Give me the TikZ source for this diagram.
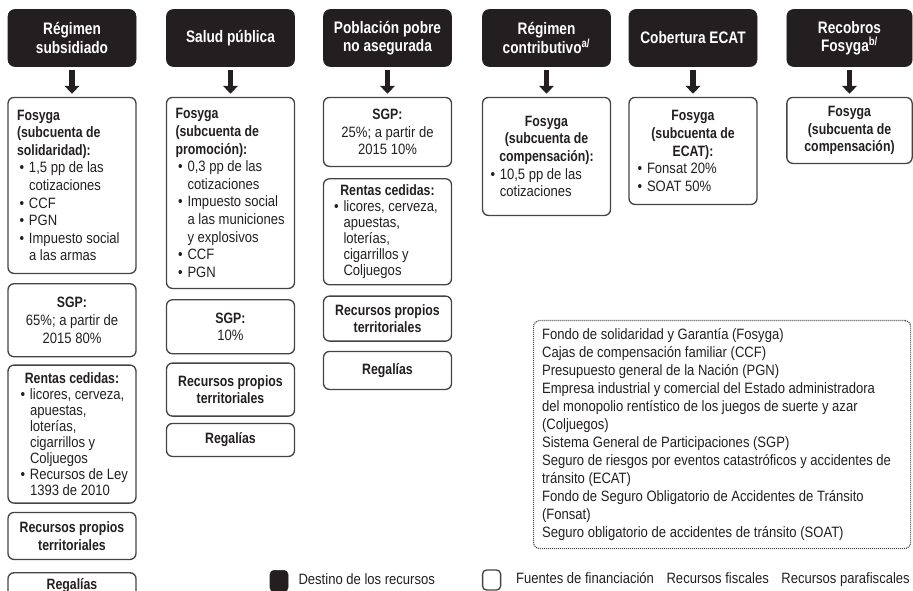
\documentclass[tikz,border=0pt]{standalone}
\usepackage{fontspec}
\setmainfont{Liberation Sans}[UprightFeatures={FakeStretch=0.87},BoldFeatures={FakeStretch=0.82}]
\usetikzlibrary{positioning,arrows.meta}
\definecolor{ink}{HTML}{231F20}
\definecolor{rim}{HTML}{444444}
% lines of a box: left line, bullet line, continued line
\newcommand\li[2][82.5pt]{\makebox[#1][l]{#2}}
\newcommand\bu[2][82.5pt]{\li[#1]{\hspace*{2pt}\makebox[7pt][l]{•}#2}}
\newcommand\bc[2][82.5pt]{\li[#1]{\hspace*{9pt}#2}}
\tikzset{%
  dest/.style={rectangle,rounded corners=5pt,fill=ink,draw=ink,text=white,
    minimum width=96pt,minimum height=42.75pt,align=center,
    font=\fontsize{12.5}{13.9}\selectfont\bfseries},
  fuente/.style={rectangle,rounded corners=4.5pt,draw=rim,line width=1pt,
    minimum width=96pt,align=center,text=ink,
    font=\fontsize{11.25}{13.2}\selectfont},
  tight/.style={font=\fontsize{11.25}{12}\selectfont},
  nota/.style={rectangle,rounded corners=4.5pt,draw=rim,line width=0.9pt,
    dash pattern=on 0.75pt off 0.75pt,align=left,text=ink,
    font=\fontsize{11.25}{13.5}\selectfont},
  lbl/.style={inner sep=0pt,text=ink,text height=8pt,text depth=2.5pt,
    font=\fontsize{11.25}{13.2}\selectfont},
  feed/.style={{Triangle[width=11pt,length=6pt]}-,line width=4pt,draw=ink,
    shorten <=2.25pt,shorten >=2.25pt}
}

\begin{document}
\begin{tikzpicture}[x=0.75pt,y=-0.75pt]
  \useasboundingbox (0,0) rectangle (913,591);
  % destino de los recursos
  \node [dest] (rs) at (72,38)    {Régimen\\subsidiado};
  \node [dest] (sp) at (230.5,38) {Salud pública};
  \node [dest] (pp) at (387.5,38) {Población pobre\\no asegurada};
  \node [dest] (rc) at (546.5,38) {Régimen\\contributivo\textsuperscript{a/}};
  \node [dest] (ec) at (693,38)   {Cobertura ECAT};
  \node [dest, minimum width=94pt] (rf) at (849.5,38) {Recobros\\Fosyga\textsuperscript{b/}};

  % regimen subsidiado
  \node [fuente, minimum height=132pt] (f1) [below=22.5pt of rs]
    {\li{\textbf{Fosyga}}\\ \li{\textbf{(subcuenta de}}\\ \li{\textbf{solidaridad):}}\\
     \bu{1,5 pp de las}\\ \bc{cotizaciones}\\ \bu{CCF}\\ \bu{PGN}\\
     \bu{Impuesto social}\\ \bc{a las armas}} edge [feed] (rs);
  \node [fuente, minimum height=54.75pt] (s1) [below=6.75pt of f1]
    {\textbf{SGP:}\\ 65\%; a partir de\\ 2015 80\%};
  \node [fuente, tight, minimum height=103.5pt] (r1) [below=5.25pt of s1]
    {\textbf{Rentas cedidas:}\\ \bu[81pt]{licores, cerveza,}\\ \bc[81pt]{apuestas,}\\
     \bc[81pt]{loterías,}\\ \bc[81pt]{cigarrillos y}\\ \bc[81pt]{Coljuegos}\\
     \bu[81pt]{Recursos de Ley}\\ \bc[81pt]{1393 de 2010}};
  \node [fuente, minimum height=35.25pt] (p1) [below=6pt of r1]
    {\textbf{Recursos propios}\\ \textbf{territoriales}};
  \node [fuente, minimum height=19.5pt] (g1) [below=9pt of p1] {\textbf{Regalías}};

  % salud publica
  \node [fuente, minimum height=143.25pt] (f2) [below=22.5pt of sp]
    {\li{\textbf{Fosyga}}\\ \li{\textbf{(subcuenta de}}\\ \li{\textbf{promoción):}}\\
     \bu{0,3 pp de las}\\ \bc{cotizaciones}\\ \bu{Impuesto social}\\
     \bc{a las municiones}\\ \bc{y explosivos}\\ \bu{CCF}\\ \bu{PGN}} edge [feed] (sp);
  \node [fuente, minimum height=40.5pt] (s2) [below=7.5pt of f2]
    {\textbf{SGP:}\\ 10\%};
  \node [fuente, minimum height=39.75pt] (p2) [below=6pt of s2]
    {\textbf{Recursos propios}\\ \textbf{territoriales}};
  \node [fuente, minimum height=24.75pt] (g2) [below=4.5pt of p2] {\textbf{Regalías}};

  % poblacion pobre no asegurada
  \node [fuente, minimum height=51.75pt] (s3) [below=22.5pt of pp]
    {\textbf{SGP:}\\ 25\%; a partir de\\ 2015 10\%} edge [feed] (pp);
  \node [fuente, tight, minimum height=79.5pt] (r3) [below=8.25pt of s3]
    {\textbf{Rentas cedidas:}\\ \bu[84pt]{licores, cerveza,}\\ \bc[84pt]{apuestas,}\\
     \bc[84pt]{loterías,}\\ \bc[84pt]{cigarrillos y}\\ \bc[84pt]{Coljuegos}};
  \node [fuente, minimum height=33.75pt] (p3) [below=7.5pt of r3]
    {\textbf{Recursos propios}\\ \textbf{territoriales}};
  \node [fuente, minimum height=28.5pt] (g3) [below=6.75pt of p3] {\textbf{Regalías}};

  % regimen contributivo, ECAT, recobros
  \node [fuente, minimum height=88.5pt] (f4) [below=22.5pt of rc]
    {\textbf{Fosyga}\\ \textbf{(subcuenta de}\\ \textbf{compensación):}\\
     \bu[88pt]{10,5 pp de las}\\ \bc[88pt]{cotizaciones}} edge [feed] (rc);
  \node [fuente, minimum height=80.25pt] (f5) [below=22.5pt of ec]
    {\textbf{Fosyga}\\ \textbf{(subcuenta de}\\ \textbf{ECAT):}\\
     \bu[87pt]{Fonsat 20\%}\\ \bu[87pt]{SOAT 50\%}} edge [feed] (ec);
  \node [fuente, minimum width=94pt, minimum height=49.5pt] (f6) [below=22.5pt of rf]
    {\textbf{Fosyga}\\ \textbf{(subcuenta de}\\ \textbf{compensación)}} edge [feed] (rf);

  % siglas
  \node [nota, anchor=north west, minimum width=282.75pt, minimum height=171pt] (nt) at (533,320)
    {\li[270pt]{Fondo de solidaridad y Garantía (Fosyga)}\\
     Cajas de compensación familiar (CCF)\\
     Presupuesto general de la Nación (PGN)\\
     Empresa industrial y comercial del Estado administradora\\
     del monopolio rentístico de los juegos de suerte y azar\\
     (Coljuegos)\\
     Sistema General de Participaciones (SGP)\\
     Seguro de riesgos por eventos catastróficos y accidentes de\\
     tránsito (ECAT)\\
     Fondo de Seguro Obligatorio de Accidentes de Tránsito\\
     (Fonsat)\\
     Seguro obligatorio de accidentes de tránsito (SOAT)};

  % convenciones
  \node [dest, minimum width=13.5pt, minimum height=16pt, rounded corners=3pt, inner sep=0pt] (kd) at (279,581) {};
  \node [lbl, right=7.5pt of kd] (td) {Destino de los recursos};
  \node [lbl, anchor=east] (tp) at (910,580) {Recursos parafiscales};
  \node [lbl, left=9pt of tp] (tr) {Recursos fiscales};
  \node [lbl, left=9pt of tr] (tf) {Fuentes de financiación};
  \node [fuente, minimum width=13.5pt, minimum height=15pt, rounded corners=3pt, inner sep=0pt,
    left=11pt of tf] (kf) {};
\end{tikzpicture}
\end{document}
